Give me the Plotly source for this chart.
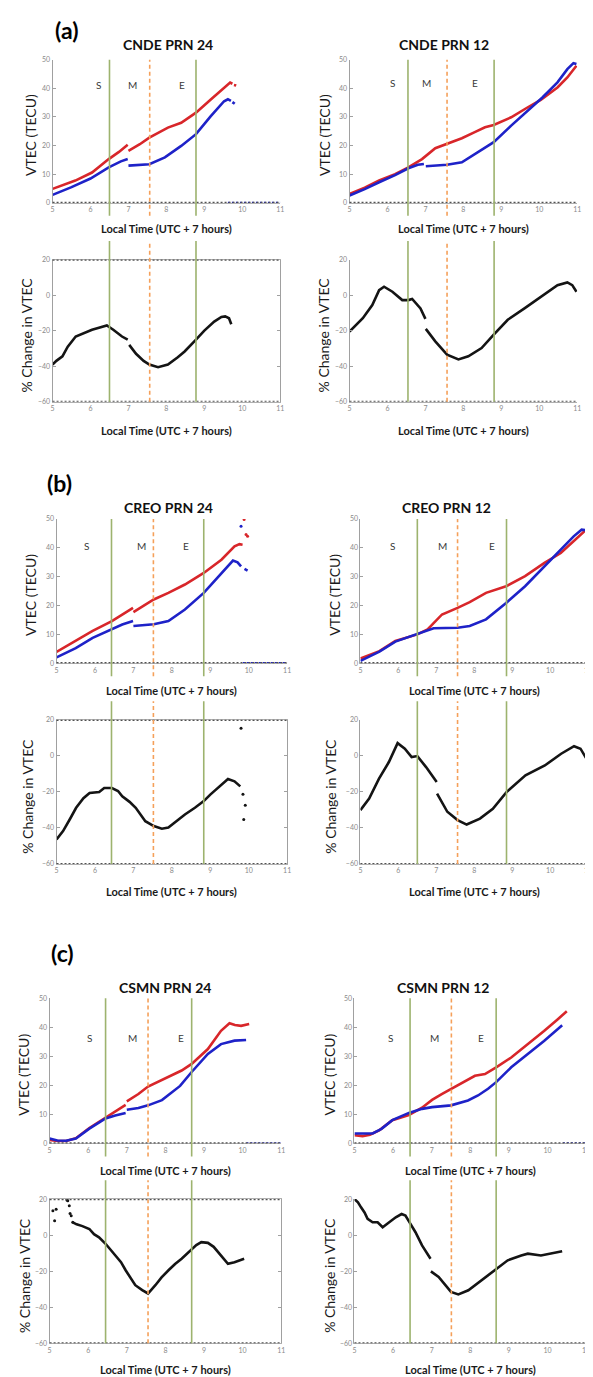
import plotly.graph_objects as go

W, H = 593, 1377

RED = "#D8262A"
BLUE = "#1E22C8"
BLACK = "#141414"
GREEN = "#9DB36E"
ORANGE = "#F5A05A"
AXIS = "#8A8A8A"
FONT = "Lato"

# ---------------------------------------------------------------------------
# data  (t = local time in hours, v = VTEC / % change)
# ---------------------------------------------------------------------------
hour_ticks = [5, 6, 7, 8, 9, 10, 11]
vtec_ticks = [0, 10, 20, 30, 40, 50]
pct_ticks = [-60, -40, -20, 0, 20]

# (a) CNDE
cnde24_red_t = [5.0, 5.3, 5.6, 6.04, 6.48, 6.75, 6.98, None, 7.0, 7.3, 7.55, 8.04, 8.39, 8.78, 9.17, 9.5, 9.68, 9.74, None, 9.78, 9.84]
cnde24_red_v = [4.9, 6.3, 7.8, 10.6, 15.3, 17.8, 20.3, None, 18.2, 20.5, 22.8, 26.3, 28.0, 31.5, 36.1, 40.0, 42.0, 41.6, None, 41.2, 41.0]
cnde24_blue_t = [5.0, 5.5, 6.0, 6.48, 6.8, 6.98, None, 7.0, 7.3, 7.55, 7.96, 8.39, 8.78, 9.17, 9.52, 9.62, 9.7, None, 9.74, 9.8]
cnde24_blue_v = [2.8, 5.5, 8.5, 12.4, 14.5, 15.3, None, 13.0, 13.3, 13.5, 15.9, 19.9, 24.0, 30.3, 35.5, 36.2, 35.6, None, 35.2, 34.6]
cnde24_zero_from = 9.62
cnde24_pct_t = [5.0, 5.1, 5.26, 5.4, 5.61, 5.8, 6.04, 6.2, 6.43, 6.6, 6.83, 6.98, None, 7.02, 7.2, 7.4, 7.55, 7.78, 8.04, 8.3, 8.48, 8.78, 9.0, 9.26, 9.45, 9.55, 9.65, 9.71]
cnde24_pct_v = [-39.1, -37.0, -34.5, -29.0, -23.3, -21.5, -19.5, -18.5, -17.1, -19.5, -23.3, -25.1, None, -28.0, -33.0, -37.0, -39.1, -40.6, -39.1, -35.0, -31.7, -25.1, -20.0, -14.9, -12.3, -12.0, -13.0, -16.4]
cnde_marks_24 = [6.5, 7.56, 8.78]

cnde12_red_t = [5.0, 5.4, 5.78, 6.2, 6.55, 6.91, 7.26, 7.57, 7.96, 8.3, 8.57, 8.8, 9.26, 9.7, 10.04, 10.48, 10.74, 10.98]
cnde12_red_v = [3.1, 5.3, 7.8, 10.0, 12.4, 15.3, 19.1, 20.6, 22.6, 24.7, 26.4, 27.2, 29.9, 33.4, 36.0, 40.3, 43.8, 47.9]
cnde12_blue_t = [5.0, 5.4, 5.78, 6.2, 6.55, 6.8, 6.96, None, 7.01, 7.3, 7.57, 7.96, 8.39, 8.8, 9.26, 9.7, 10.09, 10.48, 10.74, 10.9, 10.98]
cnde12_blue_v = [2.6, 4.8, 7.2, 9.7, 12.1, 13.3, 13.6, None, 12.8, 13.0, 13.3, 14.2, 17.7, 21.2, 27.0, 32.2, 36.9, 42.1, 46.7, 48.8, 48.5]
cnde12_pct_t = [5.0, 5.35, 5.6, 5.78, 5.91, 6.13, 6.39, 6.55, 6.65, 6.87, 7.0, None, 7.01, 7.26, 7.57, 7.87, 8.13, 8.48, 8.8, 9.17, 9.61, 10.04, 10.48, 10.74, 10.87, 10.98]
cnde12_pct_v = [-20.5, -13.0, -5.6, 2.8, 4.7, 1.9, -2.8, -2.8, -2.2, -7.5, -13.4, None, -19.0, -26.0, -33.5, -36.2, -34.4, -29.8, -22.3, -13.9, -7.5, -0.9, 5.6, 7.1, 5.6, 1.9]
cnde_marks_12 = [6.54, 7.57, 8.81]

# (b) CREO
creo24_red_t = [5.0, 5.09, 5.5, 5.94, 6.44, 6.71, 6.99, None, 7.0, 7.53, 7.91, 8.34, 8.83, 9.29, 9.63, 9.76, 9.84]
creo24_red_v = [3.9, 4.6, 7.5, 11.2, 14.6, 16.9, 19.2, None, 17.7, 22.1, 24.4, 27.3, 31.3, 35.9, 40.5, 41.3, 41.1]
creo24_red_dots_t = [9.88, 9.93, 9.97]
creo24_red_dots_v = [49.8, 44.6, 44.0]
creo24_blue_dots_t = [9.8]
creo24_blue_dots_v = [47.5]
creo24_blue_t = [5.0, 5.5, 5.94, 6.44, 6.71, 6.99, None, 7.0, 7.53, 7.91, 8.34, 8.83, 9.29, 9.59, 9.71, 9.8, None, 9.89, 9.97]
creo24_blue_v = [2.0, 5.2, 8.8, 11.7, 13.4, 14.6, None, 12.9, 13.5, 14.6, 18.6, 24.4, 31.3, 35.6, 35.0, 33.6, None, 32.7, 32.1]
creo24_zero_from = 9.85
creo24_pct_t = [5.0, 5.17, 5.35, 5.51, 5.7, 5.86, 6.11, 6.24, 6.44, 6.6, 6.71, 6.9, 7.06, 7.31, 7.53, 7.74, 7.91, 8.1, 8.34, 8.6, 8.83, 9.0, 9.2, 9.46, 9.63, 9.78]
creo24_pct_v = [-46.3, -41.7, -35.0, -28.8, -23.5, -20.6, -20.0, -17.8, -17.8, -19.5, -22.4, -25.5, -28.8, -36.2, -38.9, -40.4, -39.8, -36.5, -32.5, -28.8, -25.1, -21.5, -17.8, -12.8, -14.1, -16.9]
creo24_pct_dots_t = [9.8, 9.85, 9.91, 9.87]
creo24_pct_dots_v = [15.4, -21.3, -27.4, -35.3]
creo_marks_24 = [6.43, 7.52, 8.83]

creo12_red_t = [5.0, 5.5, 5.92, 6.5, 6.77, 6.98, 7.15, 7.56, 7.88, 8.31, 8.84, 9.34, 9.85, 10.28, 10.62, 10.88, 11.0]
creo12_red_v = [1.6, 4.2, 7.7, 10.0, 11.7, 14.6, 16.9, 19.2, 21.2, 24.4, 26.7, 30.2, 34.8, 38.2, 42.3, 45.2, 46.9]
creo12_blue_t = [5.0, 5.5, 5.92, 6.5, 6.93, 7.56, 7.88, 8.31, 8.84, 9.34, 9.85, 10.28, 10.62, 10.83, 10.95, 11.0]
creo12_blue_v = [0.8, 4.0, 7.5, 10.0, 12.1, 12.3, 12.9, 15.2, 20.9, 26.7, 33.6, 39.4, 44.0, 46.3, 46.1, 45.5]
creo12_pct_t = [5.0, 5.23, 5.49, 5.75, 5.98, 6.17, 6.35, 6.5, 6.73, 7.01, None, 7.02, 7.29, 7.56, 7.8, 8.15, 8.49, 8.85, 9.35, 9.86, 10.29, 10.63, 10.8, 11.0]
creo12_pct_v = [-30.1, -23.7, -12.6, -3.4, 7.1, 4.0, -0.6, -0.1, -6.2, -14.5, None, -20.9, -31.0, -35.6, -38.1, -34.8, -29.3, -20.1, -10.8, -5.3, 1.2, 5.4, 4.0, -3.0]
creo_marks_12 = [6.5, 7.56, 8.85]

# (c) CSMN
csmn24_red_t = [5.0, 5.2, 5.43, 5.68, 6.03, 6.45, 6.7, 6.97, None, 7.0, 7.3, 7.55, 7.99, 8.42, 8.68, 9.1, 9.44, 9.66, 9.8, 9.96, 10.17]
csmn24_red_v = [1.2, 0.8, 0.8, 1.8, 5.3, 8.9, 11.2, 13.3, None, 14.5, 17.0, 19.6, 22.3, 25.1, 27.4, 32.5, 38.8, 41.4, 40.8, 40.5, 41.1]
csmn24_blue_t = [5.0, 5.2, 5.43, 5.68, 6.03, 6.45, 6.7, 6.97, None, 7.0, 7.3, 7.55, 7.91, 8.38, 8.68, 9.1, 9.44, 9.79, 10.09]
csmn24_blue_v = [1.7, 1.0, 0.9, 1.7, 5.1, 8.6, 9.6, 10.5, None, 11.6, 12.2, 13.1, 14.9, 19.8, 24.6, 30.8, 34.2, 35.4, 35.6]
csmn24_zero_from = 10.1
csmn24_pct_dots_t = [5.085, 5.13, 5.17, 5.45, 5.47, 5.51, 5.53, 5.56, 5.6]
csmn24_pct_dots_v = [13.5, 8.0, 14.4, 19.5, 19.1, 16.3, 12.0, 10.8, 7.1]
csmn24_pct_t = [5.6, 5.7, 5.85, 6.03, 6.15, 6.28, 6.45, 6.6, 6.71, 6.85, 6.97, 7.1, 7.22, 7.4, 7.55, 7.74, 7.9, 8.08, 8.25, 8.42, 8.68, 8.8, 8.93, 9.1, 9.25, 9.36, 9.5, 9.62, 9.79, 10.04]
csmn24_pct_v = [7.1, 6.0, 5.0, 3.4, 0.5, -1.2, -4.8, -8.5, -11.3, -15.0, -19.5, -24.0, -27.8, -30.5, -32.4, -27.8, -23.5, -19.5, -16.0, -13.1, -7.6, -5.5, -3.9, -4.3, -6.5, -9.4, -12.5, -15.9, -15.0, -13.1]
csmn_marks_24 = [6.45, 7.55, 8.68]

csmn12_red_t = [5.0, 5.21, 5.4, 5.64, 5.98, 6.41, 6.75, 7.01, 7.26, 7.5, 7.8, 8.12, 8.38, 8.67, 9.06, 9.49, 9.91, 10.26, 10.5]
csmn12_red_v = [2.8, 2.5, 3.0, 4.5, 8.0, 9.8, 12.3, 15.0, 17.0, 18.8, 21.0, 23.3, 23.9, 26.2, 29.6, 34.1, 38.7, 42.7, 45.5]
csmn12_blue_t = [5.0, 5.25, 5.47, 5.7, 5.98, 6.41, 6.75, 7.01, 7.5, 7.94, 8.2, 8.46, 8.67, 9.06, 9.49, 9.91, 10.38]
csmn12_blue_v = [3.4, 3.3, 3.4, 5.0, 8.0, 10.5, 11.9, 12.5, 13.1, 14.8, 16.5, 18.8, 21.1, 26.2, 30.7, 35.3, 40.7]
csmn12_zero_from = 10.4
csmn12_pct_t = [5.0, 5.09, 5.17, 5.26, 5.34, 5.47, 5.6, 5.73, 5.9, 6.07, 6.22, 6.32, 6.45, 6.58, 6.75, 6.97, None, 6.98, 7.18, 7.5, 7.69, 7.95, 8.29, 8.67, 8.97, 9.32, 9.49, 9.83, 10.09, 10.38]
csmn12_pct_v = [20.0, 18.2, 15.4, 12.6, 9.0, 7.1, 7.1, 4.4, 7.1, 9.9, 11.7, 10.8, 6.2, 1.6, -5.7, -13.1, None, -20.1, -23.2, -31.5, -32.9, -30.6, -25.1, -18.6, -14.0, -11.3, -10.3, -11.3, -10.3, -9.0]
csmn_marks_12 = [6.44, 7.51, 8.67]

phase_names = ["S", "M", "E"]

# ---------------------------------------------------------------------------
# panel layout (pixel boxes: left, right, top, bottom)
# ---------------------------------------------------------------------------
panels = [
    dict(box=(43, 273, 47, 191), kind="top", red=(cnde24_red_t, cnde24_red_v), blue=(cnde24_blue_t, cnde24_blue_v),
         zero=cnde24_zero_from, marks=cnde_marks_24, phase_t=[6.2, 7.1, 8.4], phase_v=41.3,
         title="CNDE PRN 24", title_xy=(160, 32), ytitle_x=20, xtitle_y=217),
    dict(box=(43, 273, 248, 391), kind="pct", side="left", pct=(cnde24_pct_t, cnde24_pct_v), marks=cnde_marks_24,
         ytitle_x=17, xtitle_y=420),
    dict(box=(343, 573, 47, 191), kind="top", red=(cnde12_red_t, cnde12_red_v), blue=(cnde12_blue_t, cnde12_blue_v),
         zero=None, marks=cnde_marks_12, phase_t=[6.13, 7.04, 8.3], phase_v=41.9,
         title="CNDE PRN 12", title_xy=(438, 32), ytitle_x=318, xtitle_y=217),
    dict(box=(343, 573, 248, 391), kind="pct", side="right", pct=(cnde12_pct_t, cnde12_pct_v), marks=cnde_marks_12,
         ytitle_x=317, xtitle_y=420),

    dict(box=(47, 280, 509, 654), kind="top", red=(creo24_red_t, creo24_red_v), blue=(creo24_blue_t, creo24_blue_v),
         zero=creo24_zero_from, marks=creo_marks_24, phase_t=[5.79, 7.2, 8.37], phase_v=40.5,
         red_dots=(creo24_red_dots_t, creo24_red_dots_v), blue_dots=(creo24_blue_dots_t, creo24_blue_dots_v),
         title="CREO PRN 24", title_xy=(160, 497), ytitle_x=20, xtitle_y=681),
    dict(box=(47, 280, 711, 856), kind="pct", side="left", pct=(creo24_pct_t, creo24_pct_v), marks=creo_marks_24,
         pct_dots=(creo24_pct_dots_t, creo24_pct_dots_v), ytitle_x=18, xtitle_y=884),
    dict(box=(354, 584, 509, 654), kind="top", red=(creo12_red_t, creo12_red_v), blue=(creo12_blue_t, creo12_blue_v),
         zero=None, marks=creo_marks_12, phase_t=[5.84, 7.16, 8.47], phase_v=40.5,
         title="CREO PRN 12", title_xy=(441, 497), ytitle_x=327, xtitle_y=681),
    dict(box=(354, 584, 711, 856), kind="pct", side="right", pct=(creo12_pct_t, creo12_pct_v), marks=creo_marks_12,
         ytitle_x=324, xtitle_y=884),

    dict(box=(40, 274, 991, 1137), kind="top", red=(csmn24_red_t, csmn24_red_v), blue=(csmn24_blue_t, csmn24_blue_v),
         zero=csmn24_zero_from, marks=csmn_marks_24, phase_t=[6.04, 7.15, 8.4], phase_v=36.3,
         title="CSMN PRN 24", title_xy=(157, 980), ytitle_x=14, xtitle_y=1164),
    dict(box=(40, 274, 1193, 1338), kind="pct", side="left", pct=(csmn24_pct_t, csmn24_pct_v), marks=csmn_marks_24,
         pct_dots=(csmn24_pct_dots_t, csmn24_pct_dots_v), ytitle_x=14, xtitle_y=1364),
    dict(box=(348, 582, 991, 1137), kind="top", red=(csmn12_red_t, csmn12_red_v), blue=(csmn12_blue_t, csmn12_blue_v),
         zero=csmn12_zero_from, marks=csmn_marks_12, phase_t=[5.94, 7.08, 8.29], phase_v=36.3,
         title="CSMN PRN 12", title_xy=(437, 980), ytitle_x=323, xtitle_y=1164),
    dict(box=(348, 582, 1193, 1338), kind="pct", side="right", pct=(csmn12_pct_t, csmn12_pct_v), marks=csmn_marks_12,
         ytitle_x=322, xtitle_y=1364),
]

group_letters = [("(a)", 57, 17), ("(b)", 50, 473), ("(c)", 53, 945)]


def px(x):
    return x / W


def py(y):
    return 1 - y / H


def paper_text(x, y, text, size, color="#1A1A1A", angle=0):
    return dict(x=px(x), y=py(y), xref="paper", yref="paper", text=text, showarrow=False,
                xanchor="center", yanchor="middle", textangle=angle,
                font=dict(size=size, color=color, family=FONT))


fig = go.Figure()
shapes = []
annotations = []
layout_axes = {}

for i, p in enumerate(panels, start=1):
    xa = "x" if i == 1 else f"x{i}"
    ya = "y" if i == 1 else f"y{i}"
    xkey = "xaxis" if i == 1 else f"xaxis{i}"
    ykey = "yaxis" if i == 1 else f"yaxis{i}"
    left, right, top, bottom = p["box"]
    is_top = p["kind"] == "top"
    box_mirror = (not is_top) and p.get("side") == "left"

    layout_axes[xkey] = dict(
        domain=[px(left), px(right)], anchor=ya, range=[5, 11], tickvals=hour_ticks,
        showgrid=False, zeroline=False, showline=True, linecolor="#B0B0B0", linewidth=1,
        mirror=box_mirror, ticks="", tickfont=dict(size=7, color=AXIS, family=FONT),
    )
    layout_axes[ykey] = dict(
        domain=[py(bottom), py(top)], anchor=xa,
        range=[0, 50] if is_top else [-60, 20],
        tickvals=vtec_ticks if is_top else pct_ticks,
        showgrid=False, zeroline=False, showline=True, linecolor="#A0A0A0", linewidth=1,
        mirror="ticks" if box_mirror else False, ticks="inside", ticklen=3, tickcolor="#A0A0A0",
        tickfont=dict(size=7, color=AXIS, family=FONT),
    )

    # dotted baselines (MATLAB style)
    base_levels = [0] if is_top else ([-60, 20] if box_mirror else [-60])
    for lvl in base_levels:
        shapes.append(dict(type="line", xref=f"{xa} domain", yref=ya, x0=0, x1=1, y0=lvl, y1=lvl,
                           line=dict(color="#505050", width=2.2, dash="2px,2px")))

    # event lines
    y0, y1 = (-0.09, 1.0) if is_top else (0, 1.13)
    for k, t in enumerate(p["marks"]):
        if k == 1:
            line = dict(color=ORANGE, width=1.6, dash="4px,3px")
        else:
            line = dict(color=GREEN, width=1.6)
        shapes.append(dict(type="line", xref=xa, yref=f"{ya} domain", x0=t, x1=t, y0=y0, y1=y1, line=line))

    if is_top:
        rt, rv = p["red"]
        bt, bv = p["blue"]
        fig.add_trace(go.Scatter(x=rt, y=rv, mode="lines", line=dict(color=RED, width=2.6),
                                 xaxis=xa, yaxis=ya, showlegend=False))
        fig.add_trace(go.Scatter(x=bt, y=bv, mode="lines", line=dict(color=BLUE, width=2.6),
                                 xaxis=xa, yaxis=ya, showlegend=False))
        if p.get("zero") is not None:
            fig.add_trace(go.Scatter(x=[p["zero"], 11], y=[0, 0], mode="lines",
                                     line=dict(color=BLUE, width=2.2, dash="2px,2px"),
                                     xaxis=xa, yaxis=ya, showlegend=False))
        if "red_dots" in p:
            fig.add_trace(go.Scatter(x=p["red_dots"][0], y=p["red_dots"][1], mode="markers",
                                     marker=dict(color=RED, size=3), xaxis=xa, yaxis=ya, showlegend=False))
            fig.add_trace(go.Scatter(x=p["blue_dots"][0], y=p["blue_dots"][1], mode="markers",
                                     marker=dict(color=BLUE, size=3), xaxis=xa, yaxis=ya, showlegend=False))
        for name, t in zip(phase_names, p["phase_t"]):
            annotations.append(dict(x=t, y=p["phase_v"], xref=xa, yref=ya, text=name, showarrow=False,
                                    font=dict(size=10, color="#3A3A3A", family=FONT)))
        tx, ty = p["title_xy"]
        annotations.append(paper_text(tx, ty, "<b>" + p["title"] + "</b>", 14, "#111"))
        ytitle = "VTEC (TECU)"
    else:
        ct, cv = p["pct"]
        fig.add_trace(go.Scatter(x=ct, y=cv, mode="lines", line=dict(color=BLACK, width=2.6),
                                 xaxis=xa, yaxis=ya, showlegend=False))
        if "pct_dots" in p:
            fig.add_trace(go.Scatter(x=p["pct_dots"][0], y=p["pct_dots"][1], mode="markers",
                                     marker=dict(color=BLACK, size=3), xaxis=xa, yaxis=ya, showlegend=False))
        ytitle = "% Change in VTEC"

    annotations.append(paper_text(p["ytitle_x"], (top + bottom) / 2 + 4, ytitle, 14, angle=-90))
    annotations.append(paper_text((left + right) / 2, p["xtitle_y"], "<b>Local Time (UTC + 7 hours)</b>", 11))

for txt, x, y in group_letters:
    annotations.append(paper_text(x, y, "<b>" + txt + "</b>", 23, "#000"))

fig.update_layout(
    width=W, height=H, margin=dict(l=0, r=0, t=0, b=0),
    paper_bgcolor="white", plot_bgcolor="white",
    shapes=shapes, annotations=annotations, **layout_axes,
)

fig.write_html("out.html")
